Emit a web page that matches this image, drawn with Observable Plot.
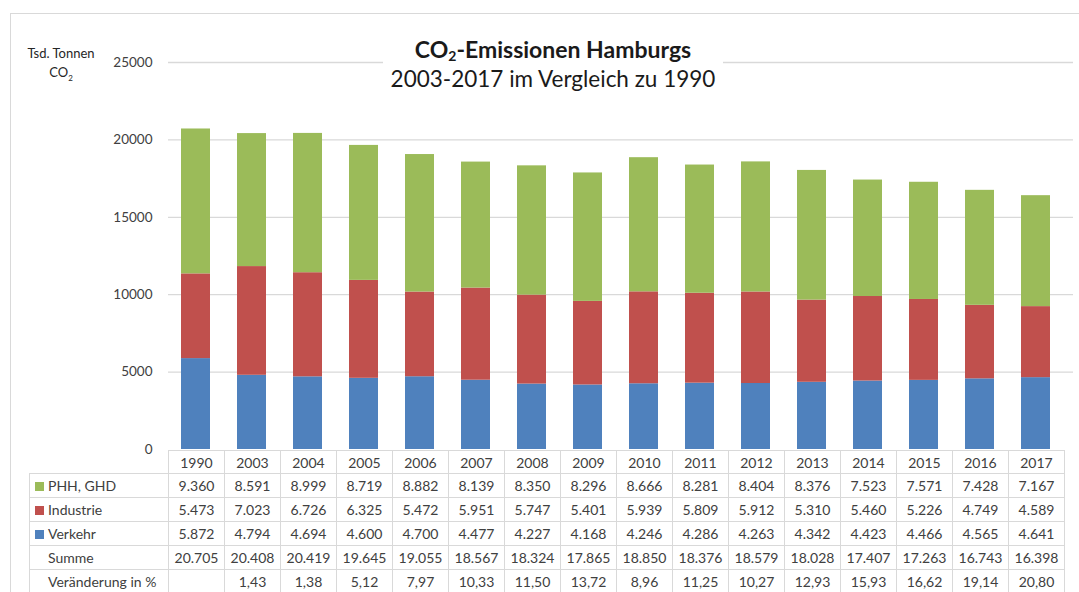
<!DOCTYPE html>
<html>
<head>
<meta charset="utf-8">
<script src="https://cdn.jsdelivr.net/npm/d3@7"></script>
<script src="https://cdn.jsdelivr.net/npm/@observablehq/plot@0.6"></script>
<style>
  html, body { margin: 0; padding: 0; background: #fff; }
  #wrap { position: relative; width: 1079px; height: 592px; overflow: hidden; font-family: Lato, "Open Sans", sans-serif; color: #404040; }
  #frame { position: absolute; left: 10px; top: 13px; right: -2px; bottom: -2px; border-top: 1px solid #d9d9d9; border-left: 1px solid #d9d9d9; }
  #chart { position: absolute; left: 0; top: 0; }
  #title { position: absolute; left: 383px; width: 340px; top: 35px; background: #fff; text-align: center; color: #1a1a1a; }
  #title .t1 { font-weight: bold; font-size: 23px; line-height: 29px; }
  #title .t1 sub { font-size: 14px; vertical-align: -3px; line-height: 0; }
  #title .t2 { font-size: 22.5px; line-height: 29px; }
  #ylab { position: absolute; left: 16px; width: 90px; top: 44px; text-align: center; font-size: 13px; line-height: 19px; color: #262626; }
  #ylab sub { font-size: 8px; line-height: 0; }
  table { position: absolute; left: 29px; top: 450px; border-collapse: collapse; font-size: 14px; color: #404040; }
  td { border: 1px solid #d9d9d9; height: 24px; padding: 0; text-align: center; width: 55px; box-sizing: border-box; white-space: nowrap; }
  tr.head td { height: 23px; }
  td.lab { width: 139px; text-align: left; padding-left: 5px; }
  td.blank { border: none; border-bottom: 1px solid #d9d9d9; border-right: 1px solid #d9d9d9; }
  .key { display: inline-block; width: 9px; height: 9px; margin-right: 4px; vertical-align: 0px; }
</style>
</head>
<body>
<div id="wrap">
  <div id="frame"></div>
  <div id="chart"></div>
  <div id="title"><div class="t1">CO<sub>2</sub>-Emissionen Hamburgs</div><div class="t2">2003-2017 im Vergleich zu 1990</div></div>
  <div id="ylab">Tsd. Tonnen<br>CO<sub>2</sub></div>
  <div id="table"></div>
</div>
<script>
const years = ["1990","2003","2004","2005","2006","2007","2008","2009","2010","2011","2012","2013","2014","2015","2016","2017"];
const phh = [9360,8591,8999,8719,8882,8139,8350,8296,8666,8281,8404,8376,7523,7571,7428,7167];
const industrie = [5473,7023,6726,6325,5472,5951,5747,5401,5939,5809,5912,5310,5460,5226,4749,4589];
const verkehr = [5872,4794,4694,4600,4700,4477,4227,4168,4246,4286,4263,4342,4423,4466,4565,4641];
const summe = [20705,20408,20419,19645,19055,18567,18324,17865,18850,18376,18579,18028,17407,17263,16743,16398];
const veraenderung = [null,1.43,1.38,5.12,7.97,10.33,11.50,13.72,8.96,11.25,10.27,12.93,15.93,16.62,19.14,20.80];
const seriesNames = ["Verkehr","Industrie","PHH, GHD"];
const seriesColors = ["#4f81bd","#c0504d","#9bbb59"];
const yTicks = [0,5000,10000,15000,20000,25000];

const seriesValues = [verkehr, industrie, phh];
const data = [];
years.forEach((yr, i) => {
  seriesNames.forEach((s, k) => data.push({year: yr, series: s, value: seriesValues[k][i]}));
});

const chart = Plot.plot({
  width: 1079,
  height: 460,
  marginTop: 62,
  marginBottom: 11,
  marginLeft: 168,
  marginRight: 6,
  style: {background: "transparent", fontFamily: "Lato, 'Open Sans', sans-serif"},
  x: {domain: years, paddingInner: 0.48, paddingOuter: 0.24, insetRight: 9, axis: null},
  y: {domain: [0, 25000], ticks: yTicks},
  color: {domain: seriesNames, range: seriesColors},
  marks: [
    Plot.gridY(yTicks.filter(d => d > 0), {stroke: "#d9d9d9", strokeOpacity: 1, strokeWidth: 1.3}),
    Plot.axisY(yTicks, {tickSize: 0, tickPadding: 16, tickFormat: d => String(d), fontSize: 13.5, fill: "#404040", label: null}),
    Plot.barY(data, {x: "year", y: "value", fill: "series"})
  ]
});
document.getElementById("chart").appendChild(chart);

// data table below the plot
const de = (v, d) => v == null ? "" : v.toLocaleString("de-DE", {minimumFractionDigits: d, maximumFractionDigits: d, useGrouping: true});
const rows = [
  {label: "PHH, GHD", color: seriesColors[2], vals: phh.map(v => de(v, 0))},
  {label: "Industrie", color: seriesColors[1], vals: industrie.map(v => de(v, 0))},
  {label: "Verkehr", color: seriesColors[0], vals: verkehr.map(v => de(v, 0))},
  {label: "Summe", color: null, vals: summe.map(v => de(v, 0))},
  {label: "Veränderung in %", color: null, vals: veraenderung.map(v => de(v, 2))}
];
const step = chart.scale("x").step;
let html = "<table><tr class='head'><td class='blank lab'></td>" + years.map(y => `<td style="width:${step}px">${y}</td>`).join("") + "</tr>";
rows.forEach(r => {
  html += "<tr><td class='lab'>" + (r.color ? `<span class="key" style="background:${r.color}"></span>` : `<span class="key"></span>`) + r.label + "</td>" +
    r.vals.map(v => `<td style="width:${step}px">${v}</td>`).join("") + "</tr>";
});
html += "</table>";
document.getElementById("table").innerHTML = html;
</script>
</body>
</html>
